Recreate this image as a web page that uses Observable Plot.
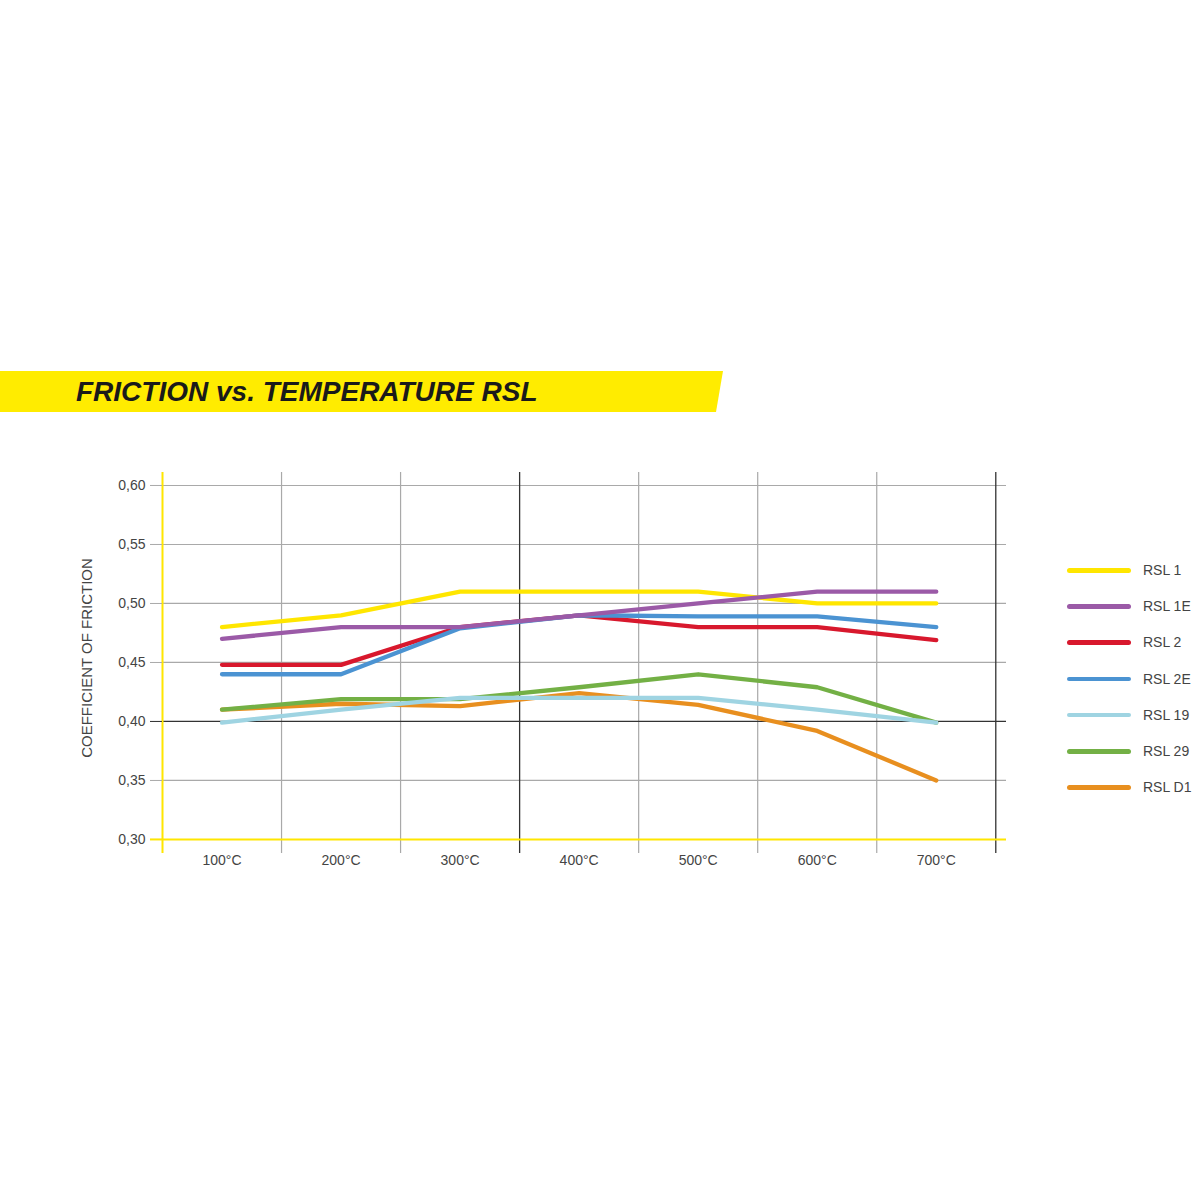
<!DOCTYPE html>
<html>
<head>
<meta charset="utf-8">
<script src="https://cdn.jsdelivr.net/npm/d3@7"></script>
<script src="https://cdn.jsdelivr.net/npm/@observablehq/plot@0.6"></script>
<style>
  body { margin: 0; background: #fff; }
  #page { position: relative; width: 1200px; height: 1200px; overflow: hidden; background: #fff;
          font-family: "Liberation Sans", Arial, Helvetica, sans-serif; }
  #banner { position: absolute; left: 0; top: 371px; width: 723px; height: 41px; background: #ffec00;
            clip-path: polygon(0 0, 100% 0, calc(100% - 7px) 100%, 0 100%); }
  #title { position: absolute; left: 76px; top: 371px; height: 41px; line-height: 41px;
           font-size: 28px; font-weight: bold; font-style: italic; color: #1a1a1a; white-space: nowrap; }
  #chart { position: absolute; left: 0; top: 452px; }
  #legend { position: absolute; left: 1067px; top: 0; }
  .item { position: absolute; left: 0; height: 20px; width: 140px; }
  .swatch { position: absolute; left: 0; top: 8px; width: 64px; height: 4.5px; border-radius: 3px; }
  .lab { position: absolute; left: 76px; top: 0; line-height: 20px; font-size: 14px; color: #444; white-space: nowrap; }
</style>
</head>
<body>
<div id="page">
  <div id="banner"></div>
  <div id="title">FRICTION vs. TEMPERATURE RSL</div>
  <div id="chart"></div>
  <div id="legend"></div>
</div>
<script>
// ---- data ----
const temps = [100, 200, 300, 400, 500, 600, 700];
const tempLabels = ["100°C", "200°C", "300°C", "400°C", "500°C", "600°C", "700°C"];
const series = ["RSL 1", "RSL 1E", "RSL 2", "RSL 2E", "RSL 19", "RSL 29", "RSL D1"];
const colors = ["#ffe600", "#9b5aa7", "#d8182d", "#4b93d2", "#9fd4e2", "#73b045", "#e88f1f"];

const rsl1  = [0.480, 0.490, 0.510, 0.510, 0.510, 0.500, 0.500];
const rsl1E = [0.470, 0.480, 0.480, 0.490, 0.500, 0.510, 0.510];
const rsl2  = [0.448, 0.448, 0.480, 0.490, 0.480, 0.480, 0.469];
const rsl2E = [0.440, 0.440, 0.479, 0.490, 0.489, 0.489, 0.480];
const rsl19 = [0.399, 0.410, 0.420, 0.420, 0.420, 0.410, 0.399];
const rsl29 = [0.410, 0.419, 0.419, 0.429, 0.440, 0.429, 0.399];
const rslD1 = [0.410, 0.415, 0.413, 0.424, 0.414, 0.392, 0.350];

const yTicks = [0.30, 0.35, 0.40, 0.45, 0.50, 0.55, 0.60];
const yGridLight = [0.35, 0.45, 0.50, 0.55, 0.60];
const yGridDark = [0.40];
const yBase = [0.30];
const xGridLight = [150, 250, 450, 550, 650];
const xGridDark = [350, 750];
const xAxisLine = [50];

// drawing order (bottom to top)
const drawOrder = ["RSL 1", "RSL 2", "RSL 2E", "RSL 1E", "RSL D1", "RSL 29", "RSL 19"];
const valuesBySeries = {
  "RSL 1": rsl1, "RSL 1E": rsl1E, "RSL 2": rsl2, "RSL 2E": rsl2E,
  "RSL 19": rsl19, "RSL 29": rsl29, "RSL D1": rslD1
};
const rows = drawOrder.flatMap(s => temps.map((t, i) => ({series: s, temp: t, value: valuesBySeries[s][i]})));
const labelOf = new Map(temps.map((t, i) => [t, tempLabels[i]]));
const fmt = d => d.toFixed(2).replace(".", ",");

const chart = Plot.plot({
  width: 1200,
  height: 441,
  marginLeft: 162,
  marginRight: 194,
  marginTop: 20,
  marginBottom: 40,
  style: {fontFamily: "'Liberation Sans', Arial, Helvetica, sans-serif", fontSize: "14px", background: "transparent"},
  x: {type: "linear", domain: [50, 759]},
  y: {domain: [0.2881, 0.6110], label: null},
  color: {domain: series, range: colors},
  marks: [
    Plot.ruleY(yGridLight, {stroke: "#a9a9a9", strokeWidth: 1.2}),
    Plot.ruleX(xGridLight, {stroke: "#a9a9a9", strokeWidth: 1.2}),
    Plot.ruleX(xGridDark, {stroke: "#333", strokeWidth: 1.3}),
    Plot.ruleY(yGridDark, {stroke: "#333", strokeWidth: 1.3}),
    Plot.ruleY(yBase, {stroke: "#ffe600", strokeWidth: 2}),
    Plot.ruleX(xAxisLine, {stroke: "#ffe600", strokeWidth: 2}),
    Plot.axisY({ticks: yTicks, tickSize: 12, tickPadding: 5, tickFormat: fmt, stroke: "#a9a9a9", fill: "#444", fontSize: 14, label: null}),
    Plot.axisY({ticks: yGridDark, tickSize: 12, tickFormat: () => "", stroke: "#333", label: null}),
    Plot.axisY({ticks: yBase, tickSize: 12, tickFormat: () => "", stroke: "#ffe600", strokeWidth: 2, label: null}),
    Plot.axisX({ticks: temps, tickSize: 0, tickPadding: 2, tickFormat: d => labelOf.get(d), fill: "#444", fontSize: 14, label: null}),
    Plot.text(["COEFFICIENT OF FRICTION"], {frameAnchor: "left", textAnchor: "middle", rotate: -90, dx: -75, dy: -5, fontSize: 15, fill: "#444"}),
    Plot.line(rows, {x: "temp", y: "value", z: "series", stroke: "series", strokeWidth: 4.3,
                     strokeLinejoin: "round", strokeLinecap: "round"})
  ]
});
document.getElementById("chart").appendChild(chart);

// legend
const legend = document.getElementById("legend");
series.forEach((s, i) => {
  const item = document.createElement("div");
  item.className = "item";
  item.style.top = (560 + i * 36.2) + "px";
  const sw = document.createElement("div");
  sw.className = "swatch";
  sw.style.background = colors[i];
  const lab = document.createElement("div");
  lab.className = "lab";
  lab.textContent = s;
  item.appendChild(sw);
  item.appendChild(lab);
  legend.appendChild(item);
});
</script>
</body>
</html>
